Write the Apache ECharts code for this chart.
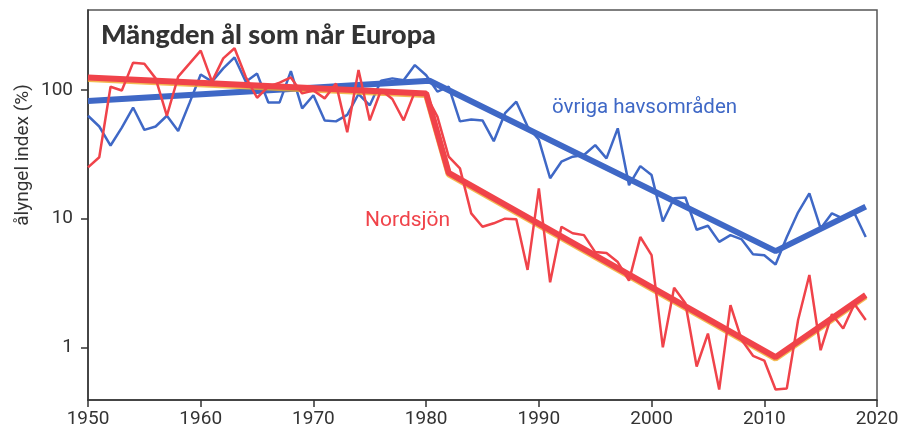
<!DOCTYPE html>
<html><head><meta charset="utf-8">
<script src="https://cdn.jsdelivr.net/npm/echarts@6/dist/echarts.min.js"></script>
<style>html,body{margin:0;padding:0;background:#fff}#c{width:902px;height:432px}</style>
</head><body><div id="c"></div>
<script>
const years = [];
for (let y = 1950; y <= 2019; y++) years.push(y);

// övriga havsområden (annual index, %)
const ovrigaValues = [
  63, 52, 37, 51, 73, 49, 52, 63, 48, 79,
  132, 116, 147, 179, 116, 134, 80, 80, 140, 72,
  91, 58, 57, 64, 93, 76, 118, 123, 119, 156,
  130, 97, 106, 57, 59, 58, 40, 66, 81, 52,
  41, 20.6, 27.7, 30.3, 31.2, 37.3, 29.4, 50.3, 18.2, 25.6,
  21.8, 9.5, 14.4, 14.6, 8.2, 8.8, 6.6, 7.45, 6.9, 5.3,
  5.2, 4.4, 7.2, 11.2, 15.7, 8.4, 11, 10, 11, 7.2
];
// Nordsjön (annual index, %)
const nordsjonValues = [
  25, 30, 106, 99, 163, 160, 123, 63, 127, 160,
  202, 116, 176, 211, 126, 87, 106, 114, 125, 94,
  99, 86, 112, 47, 143, 58, 100, 85, 58, 97,
  91, 62, 30.3, 24.6, 11, 8.65, 9.2, 10, 9.9, 4.0,
  17.2, 3.2, 8.65, 7.7, 7.45, 5.5, 5.4, 4.6, 3.3, 7.2,
  5.2, 1.0, 2.9, 2.2, 0.71, 1.28, 0.47, 2.13, 1.14, 0.86,
  0.79, 0.47, 0.48, 1.63, 3.65, 0.95, 1.81, 1.4, 2.17, 1.63
];
// piecewise trend lines: [year, value]
const ovrigaTrend = [[1950, 82], [1980.3, 118], [2011, 5.6], [2019, 12.4]];
const nordsjonTrend = [[1950, 125], [1980, 94], [1982, 22.7], [2011, 0.84], [2019, 2.55]];

const xTicks = [1950, 1960, 1970, 1980, 1990, 2000, 2010, 2020];
const yTicks = [1, 10, 100];

const BLUE = '#3f68c6', RED = '#f0434a', TXT = '#333';
const chart = echarts.init(document.getElementById('c'));
chart.setOption({
  animation: false,
  backgroundColor: '#fff',
  title: {
    text: 'Mängden ål som når Europa', left: 96, top: 17,
    textStyle: { fontFamily: 'Lato', fontWeight: 900, fontSize: 27, color: '#333' }
  },
  grid: { left: 88, right: 25, top: 10, bottom: 32, show: true, borderColor: '#555', borderWidth: 1.5 },
  xAxis: {
    type: 'value', min: 1950, max: 2020, interval: 10,
    axisLine: { lineStyle: { color: '#333', width: 1.5 } },
    axisTick: { length: 7, customValues: xTicks, lineStyle: { color: '#333', width: 1.5 } },
    axisLabel: { margin: 10, fontFamily: 'Roboto', fontSize: 19, color: TXT, customValues: xTicks, formatter: v => String(v) },
    splitLine: { show: false }
  },
  yAxis: {
    type: 'log', logBase: 10, min: 0.39, max: 418,
    axisLine: { show: true, lineStyle: { color: '#333', width: 1.5 } },
    axisTick: { show: true, length: 7, customValues: yTicks, lineStyle: { color: '#333', width: 1.5 } },
    axisLabel: { margin: 15, fontFamily: 'Roboto', fontSize: 19, color: TXT, customValues: yTicks, formatter: v => String(v) },
    splitLine: { show: false }
  },
  graphic: [
    { type: 'text', x: 23, y: 155, rotation: Math.PI / 2,
      style: { text: 'ålyngel index (%)', fontFamily: 'Roboto', fontSize: 19, fill: TXT, align: 'center', verticalAlign: 'middle' } },
    { type: 'text', x: 552, y: 108,
      style: { text: 'övriga havsområden', fontFamily: 'Roboto', fontSize: 20.5, fill: BLUE, align: 'left', verticalAlign: 'middle' } },
    { type: 'text', x: 365, y: 221,
      style: { text: 'Nordsjön', fontFamily: 'Roboto', fontSize: 21, fill: RED, align: 'left', verticalAlign: 'middle' } }
  ],
  series: [
    { type: 'line', data: ovrigaTrend, showSymbol: false, lineStyle: { color: BLUE, width: 6 }, z: 2 },
    { type: 'line', data: years.map((y, i) => [y, ovrigaValues[i]]), showSymbol: false, lineStyle: { color: BLUE, width: 2.5 }, z: 3 },
    { type: 'line', data: nordsjonTrend, showSymbol: false, lineStyle: { color: RED, width: 6, shadowColor: 'rgba(240,170,40,0.8)', shadowOffsetY: 1.5 }, z: 4 },
    { type: 'line', data: years.map((y, i) => [y, nordsjonValues[i]]), showSymbol: false, lineStyle: { color: RED, width: 2.5 }, z: 5 }
  ]
});
</script></body></html>
